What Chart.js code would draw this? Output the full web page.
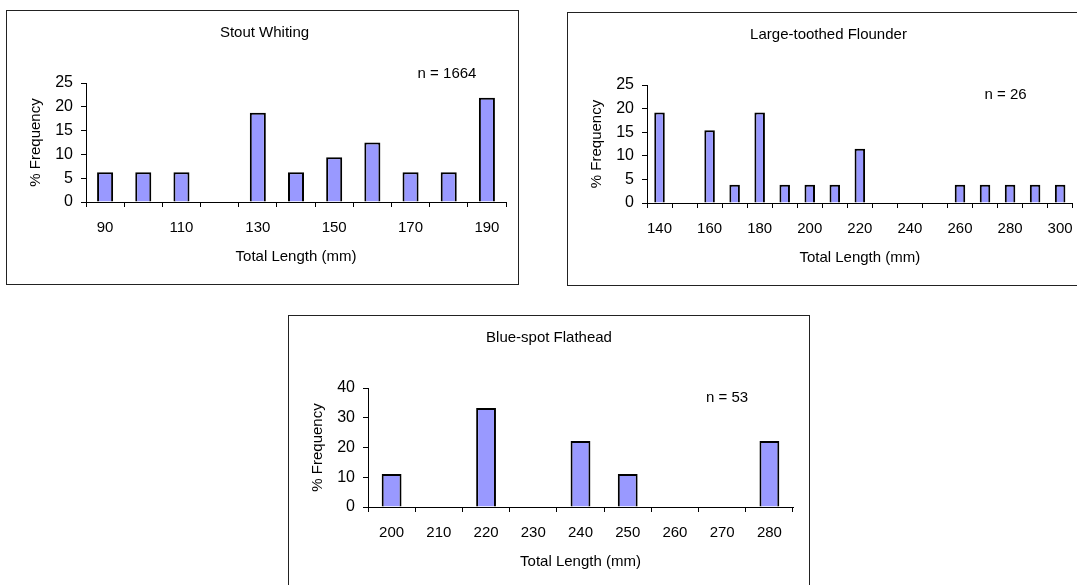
<!DOCTYPE html>
<html>
<head>
<meta charset="utf-8">
<script src="https://cdn.jsdelivr.net/npm/chart.js@4.4.0/dist/chart.umd.min.js"></script>
<style>
    body { margin: 0; width: 1077px; height: 585px; overflow: hidden; background: #fff; position: relative; }
    .box { position: absolute; border: 1px solid #222; background: #fff; }
    .box canvas { display: block; }
</style>
</head>
<body>
<div class="box" style="left:6px;top:10px;width:511px;height:273px;"><canvas id="whitingChart" width="511" height="273"></canvas></div>
<div class="box" style="left:567px;top:12px;width:530px;height:272px;"><canvas id="flounderChart" width="517" height="272"></canvas></div>
<div class="box" style="left:288px;top:315px;width:520px;height:280px;"><canvas id="flatheadChart" width="520" height="273"></canvas></div>
<script>
// Stout Whiting
const whitingLengths = ['90', '100', '110', '120', '130', '140', '150', '160', '170', '180', '190'];
const whitingFreq = [6.25, 6.25, 6.25, 0, 18.75, 6.25, 9.4, 12.5, 6.25, 6.25, 21.9];

// Large-toothed Flounder
const flounderLengths = ['140', '150', '160', '170', '180', '190', '200', '210', '220', '230', '240', '250', '260', '270', '280', '290', '300'];
const flounderFreq = [19.2, 0, 15.4, 3.85, 19.2, 3.85, 3.85, 3.85, 11.5, 0, 0, 0, 3.85, 3.85, 3.85, 3.85, 3.85];

// Blue-spot Flathead
const flatheadLengths = ['200', '210', '220', '230', '240', '250', '260', '270', '280'];
const flatheadFreq = [11.1, 0, 33.3, 0, 22.2, 11.1, 0, 0, 22.2];

const fontFamily = "'Liberation Sans', Arial, sans-serif";

// draws the "n = ..." note inside the plot area
const sampleNote = {
    id: 'sampleNote',
    afterDraw(chart, args, opts) {
        const ctx = chart.ctx;
        const area = chart.chartArea;
        ctx.save();
        ctx.font = '15px ' + fontFamily;
        ctx.fillStyle = '#000';
        ctx.textAlign = 'center';
        ctx.textBaseline = 'middle';
        ctx.fillText(opts.text, area.right - opts.dx, area.top + opts.dy);
        ctx.restore();
    }
};

function makeChart(id, title, labels, values, yMax, yStep, everyOther, note, padRight) {
    let ctx = document.getElementById(id).getContext('2d');
    return new Chart(ctx, {
        type: 'bar',
        data: {
            labels: labels,
            datasets: [{
                data: values,
                backgroundColor: '#9999FF',
                borderColor: '#000',
                borderWidth: 2,
                borderSkipped: 'bottom',
                categoryPercentage: 1,
                barPercentage: 0.42
            }]
        },
        options: {
            responsive: false,
            animation: false,
            layout: { padding: { left: 16, right: padRight, top: 0, bottom: 14 } },
            plugins: {
                legend: { display: false },
                tooltip: { enabled: false },
                title: {
                    display: true,
                    text: title,
                    color: '#000',
                    font: { family: fontFamily, size: 15, weight: 'normal' },
                    padding: { top: 13, bottom: 41 }
                },
                sampleNote: note
            },
            scales: {
                x: {
                    grid: { drawOnChartArea: false, drawTicks: true, tickLength: 5, color: '#000' },
                    border: { color: '#000', width: 1 },
                    ticks: {
                        autoSkip: false,
                        maxRotation: 0,
                        padding: 12,
                        color: '#000',
                        font: { family: fontFamily, size: 15 },
                        callback: function(value, index) {
                            if (everyOther && index % 2 === 1) return '';
                            return this.getLabelForValue(value);
                        }
                    },
                    title: {
                        display: true,
                        text: 'Total Length (mm)',
                        color: '#000',
                        font: { family: fontFamily, size: 15 }
                    },
                    afterFit: function(scale) { scale.height = 68; }
                },
                y: {
                    min: 0,
                    max: yMax,
                    grid: { drawOnChartArea: false, drawTicks: true, tickLength: 5, color: '#000' },
                    border: { color: '#000', width: 1 },
                    ticks: {
                        stepSize: yStep,
                        padding: 8,
                        color: '#000',
                        font: { family: fontFamily, size: 16 }
                    },
                    title: {
                        display: true,
                        text: '% Frequency',
                        color: '#000',
                        font: { family: fontFamily, size: 15 }
                    },
                    afterFit: function(scale) { scale.width = 63; }
                }
            }
        },
        plugins: [sampleNote]
    });
}

makeChart('whitingChart', 'Stout Whiting', whitingLengths, whitingFreq, 25, 5, true,
    { text: 'n = 1664', dx: 59, dy: -9 }, 12);
makeChart('flounderChart', 'Large-toothed Flounder', flounderLengths, flounderFreq, 25, 5, true,
    { text: 'n = 26', dx: 67, dy: 10 }, 12);
makeChart('flatheadChart', 'Blue-spot Flathead', flatheadLengths, flatheadFreq, 40, 10, false,
    { text: 'n = 53', dx: 66, dy: 10 }, 16);
</script>
</body>
</html>
